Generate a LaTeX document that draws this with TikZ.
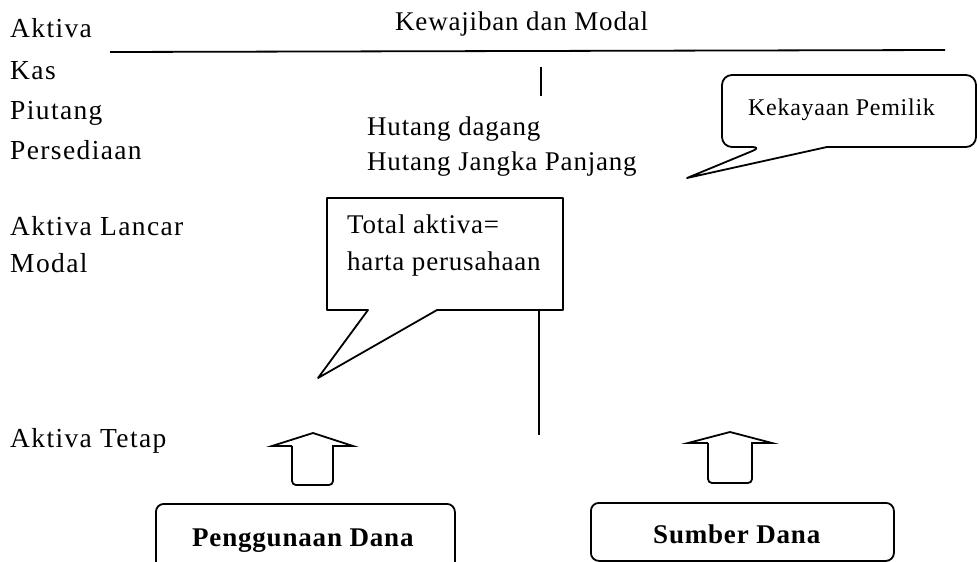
\documentclass[tikz,border=0pt]{standalone}
\usepackage{fontspec}
\setmainfont{Liberation Serif}
\newfontfamily\leftfont{Liberation Serif}[LetterSpace=5]
\newfontfamily\midfont{Liberation Serif}[LetterSpace=3]
\tikzset{
  lcol/.style={anchor=base west, inner sep=0pt, font=\leftfont\fontsize{27.5}{32}\selectfont},
  mcol/.style={anchor=base west, inner sep=0pt, font=\midfont\fontsize{27}{32}\selectfont},
  scol/.style={anchor=base west, inner sep=0pt, font=\midfont\fontsize{24}{28}\selectfont},
  bcol/.style={anchor=base west, inner sep=0pt, font=\midfont\bfseries\fontsize{27}{30}\selectfont},
  ln/.style={line width=1.8pt, line join=round},
  dbox/.style={draw, line width=1.8pt, rounded corners=8pt, anchor=north west, inner sep=0pt},
  barrow/.style={line width=1.8pt, line join=miter},
}
\begin{document}
\begin{tikzpicture}[x=1pt,y=-1pt]
\useasboundingbox (0,0) rectangle (977,562);
\clip (0,0) rectangle (977,562);
% left column
\node[lcol] (aktiva) at (10,37) {Aktiva};
\node[lcol] (kas) at (10,79) {Kas};
\node[lcol] (piutang) at (10,119) {Piutang};
\node[lcol] (persediaan) at (10,159) {Persediaan};
\node[lcol] (lancar) at (10,235) {Aktiva Lancar};
\node[lcol] (modal) at (10,272) {Modal};
\node[lcol] (tetap) at (10,447) {Aktiva Tetap};
% header
\node[mcol] (kew) at (395,30) {Kewajiban dan Modal};
\coordinate (hl) at (110,52);
\coordinate (hr) at (945,50);
\draw[ln] (hl) -- (hr);
\coordinate (v1a) at (541,67);
\coordinate (v1b) at (541,96);
\draw[ln] (v1a) -- (v1b);
% liabilities
\node[mcol] (hd) at (367,135) {Hutang dagang};
\node[mcol] (hjp) at (367,170) {Hutang Jangka Panjang};
% Kekayaan callout
\draw[ln, fill=white, rounded corners=10pt] (900,147) -- (976,147) -- (976,75) -- (722,75) -- (722,147) -- (762,147) [sharp corners] -- (687,178) -- (827,147) -- (900,147);
\node[scol] (kek) at (748,115) {Kekayaan Pemilik};
% Total aktiva callout
\coordinate (v2a) at (539,305);
\coordinate (v2b) at (539,435);
\draw[ln] (v2a) -- (v2b);
\draw[ln, fill=white] (327,198) -- (563,198) -- (563,310) -- (437,310) -- (318,378) -- (368,310) -- (327,310) -- cycle;
\node[mcol] (tot1) at (347,233) {Total aktiva=};
\node[mcol] (tot2) at (347,270) {harta perusahaan};
% block arrows
\draw[barrow] (292,446) -- (272,446) -- (313,433) -- (353,446) -- (333,446) [rounded corners=4pt] -- (333,485) -- (292,485) -- (292,446);
\draw[barrow] (708,443) -- (688,443) -- (730,432) -- (772,443) -- (752,443) [rounded corners=4pt] -- (752,483) -- (708,483) -- (708,443);
% bottom boxes
\node[dbox, minimum width=299pt, minimum height=80pt] (pengbox) at (155,503) {};
\node[bcol] (peng) at (192,546) {Penggunaan Dana};
\node[dbox, minimum width=303pt, minimum height=58pt] (sumbox) at (590,502) {};
\node[bcol] (sum) at (653,543) {Sumber Dana};
\end{tikzpicture}
\end{document}
